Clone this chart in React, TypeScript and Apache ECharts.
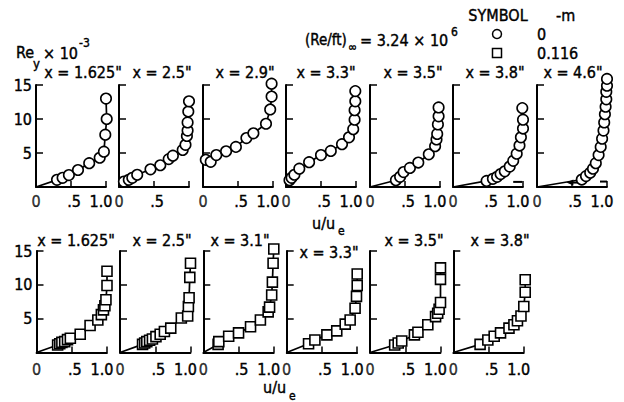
import React, { useEffect, useRef } from "react";
import * as echarts from "echarts";

const FONT = '"DejaVu Sans Condensed", "Liberation Sans Narrow", "DejaVu Sans", sans-serif';
const FS = 16;

// ---------- Top row (m = 0, circles) ----------
const topTitles = ['x = 1.625"', 'x = 2.5"', 'x = 2.9"', 'x = 3.3"', 'x = 3.5"', 'x = 3.8"', 'x = 4.6"'];
const topXLabels = [
  ["0", ".5", "1.0"],
  ["0", ".5", ""],
  ["0", ".5", "1.0"],
  ["0", ".5", "1.0"],
  ["0", ".5", "1.0"],
  ["0", ".5", "1.0"],
  ["0", ".5", "1.0"],
];
const top1U = [0.30, 0.38, 0.47, 0.60, 0.76, 0.91, 0.97, 0.99, 1.01, 1.0];
const top1Re = [1.05, 1.35, 1.75, 2.5, 3.5, 4.3, 5.2, 7.7, 10.0, 13.0];
const top2U = [0.07, 0.14, 0.19, 0.26, 0.45, 0.59, 0.71, 0.77, 0.91, 0.95, 0.97, 0.98, 0.98, 0.99, 1.0];
const top2Re = [0.8, 1.05, 1.35, 1.8, 2.6, 3.2, 4.1, 4.6, 5.45, 6.2, 7.5, 8.3, 9.5, 11.1, 12.6];
const top3U = [0.04, 0.11, 0.19, 0.33, 0.47, 0.62, 0.72, 0.90, 0.96, 0.98, 0.98];
const top3Re = [4.0, 3.7, 4.7, 5.25, 5.9, 7.2, 7.9, 9.3, 11.4, 13.3, 15.2];
const top4U = [0.05, 0.08, 0.12, 0.19, 0.33, 0.50, 0.64, 0.80, 0.90, 0.96, 0.98, 0.98, 0.99, 0.99];
const top4Re = [1.0, 1.35, 1.8, 2.7, 3.65, 4.7, 5.3, 6.3, 7.3, 8.5, 9.9, 11.3, 12.6, 14.1];
const top5U = [0.37, 0.43, 0.48, 0.57, 0.69, 0.84, 0.93, 0.95, 0.96, 0.97, 0.98, 0.98];
const top5Re = [1.0, 1.5, 2.2, 2.8, 3.6, 4.8, 6.0, 7.0, 7.8, 9.2, 10.4, 11.7];
const top6U = [0.48, 0.57, 0.63, 0.68, 0.74, 0.81, 0.86, 0.91, 0.95, 0.97, 1.0, 1.0, 0.99];
const top6Re = [0.9, 1.2, 1.5, 1.9, 2.3, 3.0, 3.85, 4.9, 6.1, 7.3, 8.6, 9.9, 11.6];
const top7U = [0.64, 0.70, 0.76, 0.80, 0.84, 0.88, 0.91, 0.93, 0.95, 0.96, 0.97, 0.98, 0.99, 0.99, 1.0, 1.0];
const top7Re = [1.1, 1.6, 2.1, 2.7, 3.5, 4.7, 5.9, 7.1, 8.3, 9.5, 10.7, 11.8, 12.9, 14.0, 14.9, 15.9];
const topOrigin = [true, true, false, true, true, true, true];

// dashes / arrow near the wall in the last two top panels
const top6DashU = [0.86, 0.99];
const top6DashRe = [0.75, 0.75];
const top7DashU = [0.90, 1.0];
const top7DashRe = [0.8, 0.8];
const top7ArrowU = [0.64, 0.47];
const top7ArrowRe = [0.65, 0.65];

// ---------- Bottom row (m = 0.116, squares) ----------
const botTitles = ['x = 1.625"', 'x = 2.5"', 'x = 3.1"', 'x = 3.3"', 'x = 3.5"', 'x = 3.8"'];
const botXLabels = [
  ["0", ".5", "1.0"],
  ["0", ".5", "1.0"],
  ["0", ".5", "1.0"],
  ["0", ".5", "1.0"],
  ["0", ".5", "1.0"],
  ["0", ".5", "1.0"],
];
const bot1U = [0.30, 0.33, 0.36, 0.40, 0.44, 0.48, 0.62, 0.76, 0.87, 0.92, 0.95, 0.97, 0.985, 1.0, 1.0];
const bot1Re = [1.1, 1.3, 1.5, 1.6, 1.9, 2.1, 2.7, 4.0, 4.8, 5.6, 6.3, 6.9, 7.8, 9.9, 12.0];
const bot2U = [0.32, 0.35, 0.38, 0.42, 0.46, 0.51, 0.57, 0.63, 0.72, 0.87, 0.96, 0.97, 0.98, 0.99, 1.0];
const bot2Re = [1.2, 1.4, 1.6, 1.8, 2.0, 2.35, 2.7, 3.1, 3.6, 5.1, 5.4, 6.8, 8.1, 11.1, 13.2];
const bot3U = [0.21, 0.22, 0.36, 0.50, 0.67, 0.81, 0.92, 0.94, 0.97, 0.98, 0.99, 1.0];
const bot3Re = [1.2, 1.6, 2.4, 2.9, 3.8, 4.8, 6.0, 6.7, 8.5, 10.4, 13.2, 15.3];
const bot4U = [0.31, 0.40, 0.57, 0.71, 0.83, 0.90, 0.97, 0.99, 1.0, 1.0];
const bot4Re = [1.3, 1.85, 2.6, 3.2, 4.2, 4.8, 6.55, 8.3, 9.9, 11.6];
const bot5U = [0.35, 0.40, 0.45, 0.63, 0.68, 0.82, 0.93, 0.96, 0.98, 1.0, 1.0, 1.0];
const bot5Re = [1.1, 1.4, 1.7, 2.6, 3.0, 4.1, 5.3, 5.8, 6.4, 7.4, 10.8, 12.5];
const bot6U = [0.38, 0.49, 0.58, 0.67, 0.79, 0.86, 0.91, 0.96, 1.0, 1.02, 1.02];
const bot6Re = [1.2, 1.85, 2.4, 2.9, 3.6, 4.1, 4.7, 5.4, 6.8, 8.9, 10.75];
const botOrigin = [true, true, true, true, true, true];

const yTickLabels = ["", "5", "10", "15"];

// ---------- layout ----------
const TOP_LEFTS = [36, 119, 203, 286, 370, 453, 537];
const BOT_LEFTS = [36.5, 120, 203.3, 286.7, 370, 453.3];
const TOP_TOP = 85, TOP_H = 102, TOP_W = 70;
const BOT_TOP = 251, BOT_H = 101.5, BOT_W = 70.5;
const TOP_TITLE_X = [83, 162, 245, 326, 413, 495, 573];
const BOT_TITLE_X = [76, 162, 240, 329, 414, 500];
const BOT_TITLE_Y = [240, 240, 240, 252, 240, 240];

const zip = (u: number[], r: number[]) => u.map((v, i) => [v, r[i]]);

export default function App() {
  const ref = useRef<HTMLDivElement>(null);
  useEffect(() => {
    if (!ref.current) return;
    const chart = echarts.init(ref.current, null, { renderer: "svg" });

    const topData = [
      zip(top1U, top1Re), zip(top2U, top2Re), zip(top3U, top3Re), zip(top4U, top4Re),
      zip(top5U, top5Re), zip(top6U, top6Re), zip(top7U, top7Re),
    ];
    const botData = [
      zip(bot1U, bot1Re), zip(bot2U, bot2Re), zip(bot3U, bot3Re),
      zip(bot4U, bot4Re), zip(bot5U, bot5Re), zip(bot6U, bot6Re),
    ];

    const grids: any[] = [];
    const xAxes: any[] = [];
    const yAxes: any[] = [];
    const series: any[] = [];
    const graphics: any[] = [];

    const baseText = {
      fontFamily: FONT, fontSize: FS, color: "#000",
      textBorderColor: "#000", textBorderWidth: 0.4,
    };
    const rich = {
      h: { ...baseText, padding: [0, 0, 0, 6] },
      o: { ...baseText, padding: [0, 10, 0, 0] },
    };

    const txt = (text: string, x: number, y: number, size = FS, align = "left") => ({
      type: "text", x, y, z: 50,
      style: {
        text, font: `${size}px ${FONT}`, fill: "#000", align, verticalAlign: "middle",
        stroke: "#000", lineWidth: 0.4,
      },
    });

    const addPanel = (
      idx: number, left: number, top: number, width: number, height: number,
      labels: string[], first: boolean, labelMargin: number, zeroDx: number,
      pts: number[][], origin: boolean, symbol: string
    ) => {
      grids.push({ left, top, width, height, containLabel: false });
      xAxes.push({
        gridIndex: idx, type: "value", min: 0, max: 1, interval: 0.5,
        axisLine: { show: true, onZero: false, lineStyle: { color: "#000", width: 1.8 } },
        axisTick: { show: true, inside: true, length: 6, lineStyle: { color: "#000", width: 1.5 } },
        splitLine: { show: false },
        axisLabel: {
          show: true, margin: labelMargin, ...baseText, rich,
          showMinLabel: true, showMaxLabel: true, hideOverlap: false,
          formatter: (v: number) => {
            const k = Math.round(v * 2);
            if (k === 1 && labels[1]) return `{h|${labels[1]}}`;
            if (k === 2 && labels[2]) return `{o|${labels[2]}}`;
            return "";
          },
        },
      });
      yAxes.push({
        gridIndex: idx, type: "value", min: 0, max: 15, interval: 5,
        axisLine: { show: true, onZero: false, lineStyle: { color: "#000", width: 2 } },
        axisTick: { show: true, inside: true, length: 7, lineStyle: { color: "#000", width: 1.5 } },
        splitLine: { show: false },
        axisLabel: {
          show: first, margin: 4, ...baseText, showMaxLabel: true, showMinLabel: false,
          formatter: (v: number) => yTickLabels[Math.round(v / 5)] ?? "",
        },
      });
      const data: any[] = pts.map((p) => ({ value: p }));
      if (origin) data.unshift({ value: [0, 0], symbol: "none" });
      series.push({
        type: "line", xAxisIndex: idx, yAxisIndex: idx, data,
        symbol, symbolSize: symbol === "rect" ? 10 : 10.5, clip: false,
        itemStyle: { color: "#fff", borderColor: "#000", borderWidth: 1.6 },
        lineStyle: { color: "#000", width: 1.7 },
        z: 3,
      });
      // origin tick label "0", attached to the point (0, 0) of this panel
      series.push({
        type: "scatter", xAxisIndex: idx, yAxisIndex: idx, data: [[0, 0]], clip: false,
        symbol: "circle", symbolSize: 1, silent: true,
        itemStyle: { color: "rgba(0,0,0,0)" },
        label: {
          show: true, position: "bottom", distance: labelMargin - 0.5,
          offset: [zeroDx, 0], formatter: () => labels[0],
          ...baseText,
        },
        labelLayout: { hideOverlap: false },
        z: 10,
      });
    };

    topData.forEach((pts, i) => {
      addPanel(i, TOP_LEFTS[i], TOP_TOP, TOP_W, TOP_H, topXLabels[i], i === 0, 6, i === 0 ? -10 : -2,
        pts, topOrigin[i], "circle");
      graphics.push(txt(topTitles[i], TOP_TITLE_X[i], 72, FS, "center"));
    });
    botData.forEach((pts, j) => {
      const i = 7 + j;
      addPanel(i, BOT_LEFTS[j], BOT_TOP, BOT_W, BOT_H, botXLabels[j], j === 0, 9, j === 0 ? -8 : -2,
        pts, botOrigin[j], "rect");
      graphics.push(txt(botTitles[j], BOT_TITLE_X[j], BOT_TITLE_Y[j], FS, "center"));
    });

    const extraLine = (idx: number, u: number[], r: number[], arrow = false) => {
      const data: any[] = zip(u, r).map((p, k) =>
        arrow && k === u.length - 1
          ? { value: p, symbol: "triangle", symbolSize: [6, 7], symbolRotate: 90 }
          : { value: p, symbol: "none" }
      );
      series.push({
        type: "line", xAxisIndex: idx, yAxisIndex: idx, data, clip: false,
        itemStyle: { color: "#000" },
        lineStyle: { color: "#000", width: 2 }, z: 2,
      });
    };
    extraLine(5, top6DashU, top6DashRe);
    extraLine(6, top7DashU, top7DashRe);
    extraLine(6, top7ArrowU, top7ArrowRe, true);

    graphics.push(
      txt("Re", 16, 52),
      txt("y", 33, 63, 13),
      txt("× 10", 43, 53),
      txt("-3", 79, 43, 12),
      txt("(Re/ft)", 305, 40, 15),
      txt("∞", 348, 47, 12),
      txt("= 3.24 × 10", 360, 40),
      txt("6", 451, 32, 12),
      txt("SYMBOL", 498, 15, FS, "center"),
      txt("-m", 556, 15),
      txt("0", 537, 34),
      txt("0.116", 537, 53),
      txt("u/u", 312, 223),
      txt("e", 338, 231, 12),
      txt("u/u", 263, 387),
      txt("e", 289, 396, 12),
      {
        type: "circle", shape: { cx: 497, cy: 34, r: 4.5 },
        style: { fill: "#fff", stroke: "#000", lineWidth: 1.5 },
      },
      {
        type: "rect", shape: { x: 492.5, y: 48.5, width: 9, height: 9 },
        style: { fill: "#fff", stroke: "#000", lineWidth: 1.5 },
      }
    );

    chart.setOption({
      animation: false,
      backgroundColor: "#fff",
      grid: grids,
      xAxis: xAxes,
      yAxis: yAxes,
      series,
      graphic: graphics,
    });

    return () => chart.dispose();
  }, []);

  return (
    <div
      ref={ref}
      style={{ position: "fixed", left: 0, top: 0, width: 624, height: 402, background: "#fff" }}
    />
  );
}
